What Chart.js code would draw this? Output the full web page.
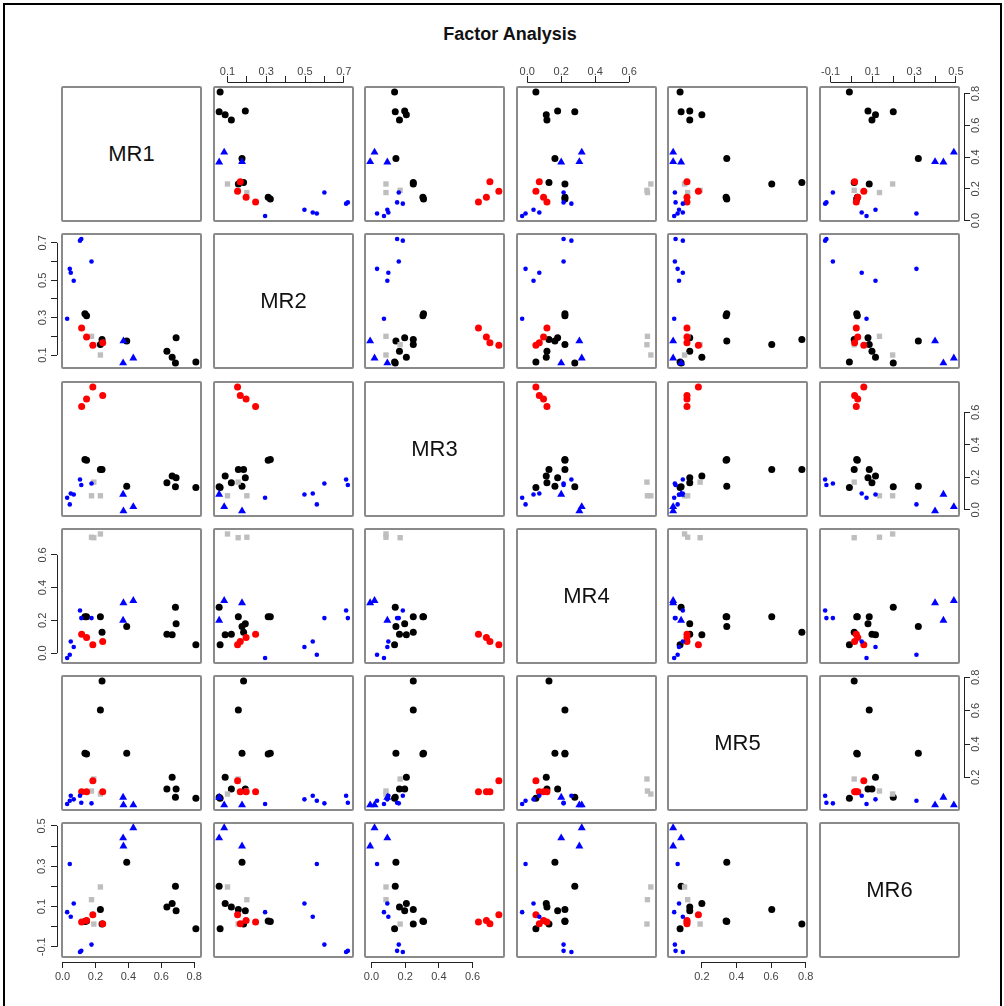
<!DOCTYPE html>
<html>
<head>
<meta charset="utf-8">
<title>Factor Analysis</title>
<script src="https://cdn.jsdelivr.net/npm/chart.js@4.4.1/dist/chart.umd.min.js"></script>
<style>
  body { margin: 0; background: #fff; font-family: "Liberation Sans", Arial, sans-serif; }
  #frame { position: absolute; left: 3px; top: 3px; width: 995px; height: 1020px; border: 2px solid #000; border-bottom: none; }
  #title { position: absolute; left: 0; width: 1020px; top: 24px; text-align: center; font-weight: bold; font-size: 18px; color: #111; }
  .box { position: absolute; box-sizing: border-box; border: 2px solid #8a8a8a; border-radius: 2px; }
  .diag { display: flex; align-items: center; justify-content: center; font-size: 22px; color: #111; }
  canvas { position: absolute; }
</style>
</head>
<body>
<div id="frame"></div>
<div id="title">Factor Analysis</div>
<script>
// factor names
const factors = ['MR1', 'MR2', 'MR3', 'MR4', 'MR5', 'MR6'];

// each row: loadings on MR1..MR6
const blackPts = [
  [0.81, 0.062, 0.137, 0.051, 0.074, -0.01],
  [0.69, 0.192, 0.197, 0.179, 0.13, 0.079],
  [0.686, 0.057, 0.141, 0.28, 0.08, 0.20],
  [0.666, 0.088, 0.207, 0.112, 0.20, 0.115],
  [0.634, 0.12, 0.166, 0.116, 0.13, 0.098],
  [0.39, 0.175, 0.145, 0.163, 0.344, 0.32],
  [0.24, 0.183, 0.248, 0.128, 0.778, 0.013],
  [0.23, 0.156, 0.248, 0.222, 0.604, 0.085],
  [0.146, 0.31, 0.305, 0.222, 0.34, 0.028],
  [0.136, 0.321, 0.309, 0.222, 0.344, 0.025]
];
const redPts = [
  [0.116, 0.245, 0.635, 0.116, 0.114, 0.023],
  [0.146, 0.196, 0.682, 0.096, 0.114, 0.03],
  [0.184, 0.152, 0.756, 0.051, 0.18, 0.059],
  [0.244, 0.166, 0.703, 0.071, 0.114, 0.015]
];
const grayPts = [
  [0.176, 0.2, 0.086, 0.708, 0.118, 0.134],
  [0.19, 0.155, 0.17, 0.705, 0.19, 0.013],
  [0.23, 0.1, 0.086, 0.728, 0.1, 0.197]
];
const trianglePts = [
  [0.37, 0.175, -0.008, 0.307, 0.034, 0.40],
  [0.43, 0.083, 0.018, 0.321, 0.034, 0.49],
  [0.368, 0.057, 0.094, 0.2, 0.08, 0.44]
];
const dotPts = [
  [0.028, 0.294, 0.074, -0.03, 0.04, 0.072],
  [0.044, 0.561, 0.033, -0.01, 0.06, 0.311],
  [0.05, 0.54, 0.1, 0.071, 0.09, 0.049],
  [0.068, 0.497, 0.094, 0.037, 0.068, 0.115],
  [0.106, 0.712, 0.186, 0.26, 0.09, -0.126],
  [0.114, 0.721, 0.152, 0.214, 0.048, -0.12],
  [0.176, 0.6, 0.162, 0.214, 0.044, -0.089]
];

// tick positions and their labels per factor ('' = tick without label)
const tickValues = [
  [0, 0.2, 0.4, 0.6, 0.8],
  [0.1, 0.2, 0.3, 0.4, 0.5, 0.6, 0.7],
  [0, 0.2, 0.4, 0.6],
  [0, 0.2, 0.4, 0.6],
  [0.2, 0.4, 0.6, 0.8],
  [-0.1, 0, 0.1, 0.2, 0.3, 0.4, 0.5]
];
const tickLabels = [
  ['0.0', '0.2', '0.4', '0.6', '0.8'],
  ['0.1', '', '0.3', '', '0.5', '', '0.7'],
  ['0.0', '0.2', '0.4', '0.6'],
  ['0.0', '0.2', '0.4', '0.6'],
  ['0.2', '0.4', '0.6', '0.8'],
  ['-0.1', '', '0.1', '', '0.3', '', '0.5']
];

// layout
const colX = [62, 214, 365, 517, 668, 820];
const rowY = [87, 234, 382, 529, 676, 823];
const PW = 139, PH = 134;
const G = 5;   // gap between box and axis line
const M = 40;  // room for ticks/labels
const FONT = '"Liberation Sans", Arial, sans-serif';

const allPts = [].concat(blackPts, redPts, grayPts, trianglePts, dotPts);
// data range + 4% like R
function rangeOf(i) {
  const v = allPts.map(p => p[i]);
  const lo = Math.min(...v), hi = Math.max(...v), e = (hi - lo) * 0.04;
  return [lo - e, hi + e];
}
const ranges = factors.map((f, i) => rangeOf(i));

const axisLine = {
  id: 'axisLine',
  afterDraw(chart) {
    const ctx = chart.ctx, a = chart.chartArea;
    ctx.save();
    ctx.strokeStyle = '#222';
    ctx.lineWidth = 1;
    Object.values(chart.scales).forEach(s => {
      if (!s.options.ticks.display) return;
      const t = s.ticks;
      const p0 = s.getPixelForValue(t[0].value), p1 = s.getPixelForValue(t[t.length - 1].value);
      ctx.beginPath();
      if (s.isHorizontal()) {
        const y = (s.options.position === 'top' ? Math.round(a.top) : Math.round(a.bottom)) + 0.5;
        ctx.moveTo(p0, y); ctx.lineTo(p1, y);
      } else {
        const x = (s.options.position === 'left' ? Math.round(a.left) : Math.round(a.right)) + 0.5;
        ctx.moveTo(x, p0); ctx.lineTo(x, p1);
      }
      ctx.stroke();
    });
    ctx.restore();
  }
};

function makeScale(f, horiz, side, show) {
  const [lo, hi] = ranges[f];
  const pad = G * (hi - lo) / (horiz ? PW : PH);
  let tp = 0;
  if (side === 'top') tp = -3;
  else if (side === 'bottom') tp = 2;
  else if (side === 'right') tp = -2;
  return {
    type: 'linear',
    position: side,
    bounds: 'data',
    min: lo - pad,
    max: hi + pad,
    afterBuildTicks: s => { s.ticks = tickValues[f].map(v => ({ value: v })); },
    afterFit: s => { if (horiz) s.height = M; else s.width = M; },
    border: { display: false },
    grid: { display: show, drawOnChartArea: false, drawTicks: true, tickLength: 6, color: '#222', lineWidth: 1 },
    ticks: {
      display: show,
      autoSkip: false,
      padding: tp,
      crossAlign: horiz ? 'near' : 'center',
      minRotation: horiz ? 0 : 90,
      maxRotation: horiz ? 0 : 90,
      color: '#444',
      font: { family: FONT, size: 11 },
      callback: (v, i) => tickLabels[f][i]
    }
  };
}

function ds(pts, r, c, style, radius, color) {
  return {
    data: pts.map(p => ({ x: p[c], y: p[r] })),
    pointStyle: style,
    pointRadius: radius,
    backgroundColor: color,
    borderColor: color,
    borderWidth: 0
  };
}

for (let r = 0; r < 6; r++) {
  for (let c = 0; c < 6; c++) {
    const box = document.createElement('div');
    box.className = 'box';
    box.style.left = (colX[c] - 1) + 'px';
    box.style.top = (rowY[r] - 1) + 'px';
    box.style.width = (PW + 2) + 'px';
    box.style.height = (PH + 2) + 'px';
    document.body.appendChild(box);
    if (r === c) {
      box.classList.add('diag');
      box.textContent = factors[r];
      continue;
    }
    const cv = document.createElement('canvas');
    cv.width = PW + 2 * G + 2 * M;
    cv.height = PH + 2 * G + 2 * M;
    cv.style.left = (colX[c] - G - M) + 'px';
    cv.style.top = (rowY[r] - G - M) + 'px';
    document.body.appendChild(cv);

    const xSide = (c % 2 === 1) ? 'top' : 'bottom';
    const ySide = (r % 2 === 1) ? 'left' : 'right';
    const showX = (c % 2 === 1 && r === 0) || (c % 2 === 0 && r === 5);
    const showY = (r % 2 === 1 && c === 0) || (r % 2 === 0 && c === 5);

    new Chart(cv, {
      type: 'scatter',
      data: {
        datasets: [
          ds(dotPts, r, c, 'circle', 2.3, '#0000ff'),
          ds(trianglePts, r, c, 'triangle', 4.6, '#0000ff'),
          ds(redPts, r, c, 'circle', 3.5, '#ff0000'),
          ds(grayPts, r, c, 'rect', 3.8, '#bebebe'),
          ds(blackPts, r, c, 'circle', 3.5, '#000000')
        ]
      },
      options: {
        responsive: false,
        animation: false,
        events: [],
        devicePixelRatio: 1,
        layout: {
          padding: {
            top: xSide === 'top' ? 0 : M,
            bottom: xSide === 'bottom' ? 0 : M,
            left: ySide === 'left' ? 0 : M,
            right: ySide === 'right' ? 0 : M
          }
        },
        plugins: { legend: { display: false }, tooltip: { enabled: false } },
        scales: {
          x: makeScale(c, true, xSide, showX),
          y: makeScale(r, false, ySide, showY)
        }
      },
      plugins: [axisLine]
    });
  }
}
</script>
</body>
</html>
